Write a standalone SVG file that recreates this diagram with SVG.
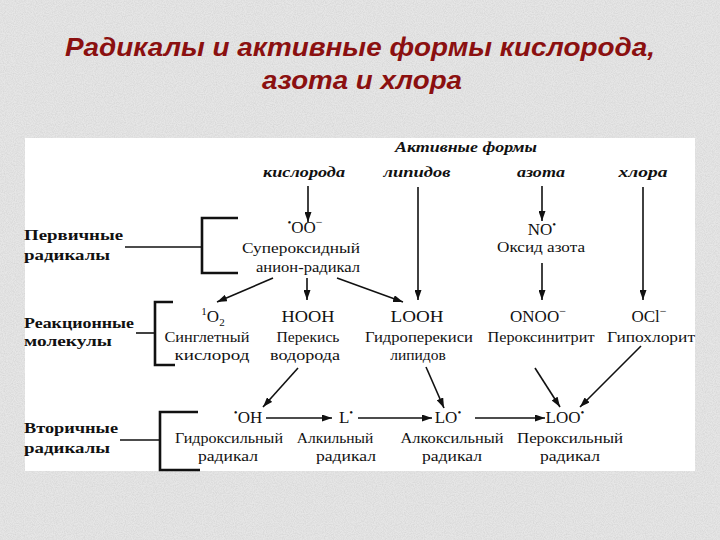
<svg xmlns="http://www.w3.org/2000/svg" width="720" height="540" viewBox="0 0 720 540">
<defs>
<style>
.title{font-family:"Liberation Sans",Arial,sans-serif;font-size:26px;font-weight:bold;font-style:italic;fill:#8b1010}
.h{font-family:"Liberation Serif","Times New Roman",serif;font-size:15px;font-weight:bold;font-style:italic;fill:#111}
.l{font-family:"Liberation Serif","Times New Roman",serif;font-size:15px;font-weight:bold;fill:#111}
.t{font-family:"Liberation Serif","Times New Roman",serif;font-size:15.5px;fill:#111}
.f{font-family:"Liberation Serif","Times New Roman",serif;font-size:17px;fill:#111}
.ln{stroke:#111;stroke-width:1.6;fill:none}
.ar{stroke:#111;stroke-width:1.6;fill:none;marker-end:url(#ah)}
.br{stroke:#111;stroke-width:2.6;fill:none}
</style>
<marker id="ah" markerUnits="userSpaceOnUse" markerWidth="10" markerHeight="7" refX="10" refY="3.5" orient="auto">
<path d="M0,0 L10,3.5 L0,7 z" fill="#111"/>
</marker>
<filter id="grain" x="0" y="0" width="100%" height="100%">
<feTurbulence type="fractalNoise" baseFrequency="0.9" numOctaves="2" seed="3"/>
<feColorMatrix type="matrix" values="0 0 0 0 0.55  0 0 0 0 0.55  0 0 0 0 0.55  0 0 0 1.1 -0.35"/>
</filter>
</defs>
<rect width="720" height="540" fill="#e6e6e6"/>
<rect width="720" height="540" filter="url(#grain)" opacity="0.7"/>
<g id="title">
<text class="title" x="360" y="56" text-anchor="middle" textLength="590" lengthAdjust="spacingAndGlyphs">Радикалы и активные формы кислорода,</text>
<text class="title" x="362" y="89" text-anchor="middle" textLength="200" lengthAdjust="spacingAndGlyphs">азота и хлора</text>
</g>
<rect id="panel" x="25" y="138" width="670" height="333" fill="#ffffff"/>
<g id="headers">
<text class="h" x="466" y="152" text-anchor="middle" textLength="142" lengthAdjust="spacingAndGlyphs">Активные формы</text>
<text class="h" x="304" y="177" text-anchor="middle" textLength="82" lengthAdjust="spacingAndGlyphs">кислорода</text>
<text class="h" x="417" y="177" text-anchor="middle" textLength="67" lengthAdjust="spacingAndGlyphs">липидов</text>
<text class="h" x="541" y="177" text-anchor="middle" textLength="48" lengthAdjust="spacingAndGlyphs">азота</text>
<text class="h" x="643" y="177" text-anchor="middle" textLength="49" lengthAdjust="spacingAndGlyphs">хлора</text>
</g>
<g id="label-primary">
<text class="l" x="24" y="240" textLength="99" lengthAdjust="spacingAndGlyphs">Первичные</text>
<text class="l" x="24" y="260" textLength="86" lengthAdjust="spacingAndGlyphs">радикалы</text>
<path class="ln" d="M125,247 H202"/>
<path class="br" d="M238,218 H202 V273 H238"/>
</g>
<g id="label-reactive">
<text class="l" x="24" y="328" textLength="110" lengthAdjust="spacingAndGlyphs">Реакционные</text>
<text class="l" x="24" y="346" textLength="88" lengthAdjust="spacingAndGlyphs">молекулы</text>
<path class="ln" d="M136,333 H155"/>
<path class="br" d="M173,302 H155 V365 H175"/>
</g>
<g id="label-secondary">
<text class="l" x="24" y="433" textLength="94" lengthAdjust="spacingAndGlyphs">Вторичные</text>
<text class="l" x="24" y="453" textLength="86" lengthAdjust="spacingAndGlyphs">радикалы</text>
<path class="ln" d="M120,440 H160"/>
<path class="br" d="M198,412 H160 V470 H200"/>
</g>
<g id="superoxide">
<text class="f" x="305" y="233" text-anchor="middle"><tspan font-size="11" dy="-7">•</tspan><tspan dy="7">OO</tspan><tspan font-size="12" dy="-7">−</tspan></text>
<text class="t" x="301" y="253" text-anchor="middle" textLength="118" lengthAdjust="spacingAndGlyphs">Супероксидный</text>
<text class="t" x="308" y="272" text-anchor="middle" textLength="104" lengthAdjust="spacingAndGlyphs">анион-радикал</text>
</g>
<g id="nitric-oxide">
<text class="f" x="542" y="235" text-anchor="middle">NO<tspan font-size="11" dy="-7">•</tspan></text>
<text class="t" x="541" y="252" text-anchor="middle" textLength="88" lengthAdjust="spacingAndGlyphs">Оксид азота</text>
</g>
<g id="singlet-oxygen">
<text class="f" x="213" y="322" text-anchor="middle"><tspan font-size="11" dy="-7">1</tspan><tspan dy="7">O</tspan><tspan font-size="11" dy="4">2</tspan></text>
<text class="t" x="207" y="342" text-anchor="middle" textLength="85" lengthAdjust="spacingAndGlyphs">Синглетный</text>
<text class="t" x="212" y="360" text-anchor="middle" textLength="75" lengthAdjust="spacingAndGlyphs">кислород</text>
</g>
<g id="hydrogen-peroxide">
<text class="f" x="308" y="322" text-anchor="middle" textLength="53" lengthAdjust="spacingAndGlyphs">HOOH</text>
<text class="t" x="308" y="342" text-anchor="middle" textLength="63" lengthAdjust="spacingAndGlyphs">Перекись</text>
<text class="t" x="305" y="360" text-anchor="middle" textLength="70" lengthAdjust="spacingAndGlyphs">водорода</text>
</g>
<g id="lipid-hydroperoxide">
<text class="f" x="417" y="322" text-anchor="middle" textLength="53" lengthAdjust="spacingAndGlyphs">LOOH</text>
<text class="t" x="419" y="342" text-anchor="middle" textLength="108" lengthAdjust="spacingAndGlyphs">Гидроперекиси</text>
<text class="t" x="418" y="360" text-anchor="middle">липидов</text>
</g>
<g id="peroxynitrite">
<text class="f" x="538" y="322" text-anchor="middle">ONOO<tspan font-size="12" dy="-7">−</tspan></text>
<text class="t" x="541" y="342" text-anchor="middle" textLength="107" lengthAdjust="spacingAndGlyphs">Пероксинитрит</text>
</g>
<g id="hypochlorite">
<text class="f" x="649" y="322" text-anchor="middle">OCl<tspan font-size="12" dy="-7">−</tspan></text>
<text class="t" x="651" y="342" text-anchor="middle" textLength="88" lengthAdjust="spacingAndGlyphs">Гипохлорит</text>
</g>
<g id="hydroxyl">
<text class="f" x="248" y="423" text-anchor="middle"><tspan font-size="11" dy="-7">•</tspan><tspan dy="7">OH</tspan></text>
<text class="t" x="229" y="443" text-anchor="middle" textLength="108" lengthAdjust="spacingAndGlyphs">Гидроксильный</text>
<text class="t" x="228" y="461" text-anchor="middle" textLength="60" lengthAdjust="spacingAndGlyphs">радикал</text>
</g>
<g id="alkyl">
<text class="f" x="346" y="423" text-anchor="middle">L<tspan font-size="11" dy="-7">•</tspan></text>
<text class="t" x="335" y="443" text-anchor="middle">Алкильный</text>
<text class="t" x="346" y="461" text-anchor="middle" textLength="60" lengthAdjust="spacingAndGlyphs">радикал</text>
</g>
<g id="alkoxyl">
<text class="f" x="448" y="423" text-anchor="middle">LO<tspan font-size="11" dy="-7">•</tspan></text>
<text class="t" x="452" y="443" text-anchor="middle" textLength="103" lengthAdjust="spacingAndGlyphs">Алкоксильный</text>
<text class="t" x="452" y="461" text-anchor="middle" textLength="60" lengthAdjust="spacingAndGlyphs">радикал</text>
</g>
<g id="peroxyl">
<text class="f" x="565" y="423" text-anchor="middle">LOO<tspan font-size="11" dy="-7">•</tspan></text>
<text class="t" x="570" y="443" text-anchor="middle" textLength="106" lengthAdjust="spacingAndGlyphs">Пероксильный</text>
<text class="t" x="570" y="461" text-anchor="middle" textLength="60" lengthAdjust="spacingAndGlyphs">радикал</text>
</g>
<g id="connectors">
<path class="ar" d="M308,186 L308,222"/>
<path class="ar" d="M542,186 L542,221"/>
<path class="ar" d="M418,187 L418,300"/>
<path class="ar" d="M643,187 L643,300"/>
<path class="ar" d="M542,263 L542,300"/>
<path class="ar" d="M273,278 L217,302"/>
<path class="ar" d="M307,278 L307,300"/>
<path class="ar" d="M337,278 L403,302"/>
<path class="ar" d="M298,368 L263,407"/>
<path class="ar" d="M426,367 L444,408"/>
<path class="ar" d="M535,368 L560,407"/>
<path class="ar" d="M641,346 L580,407"/>
<path class="ar" d="M266,418 L332,418"/>
<path class="ar" d="M358,418 L432,418"/>
<path class="ar" d="M475,418 L545,418"/>
</g>
</svg>
